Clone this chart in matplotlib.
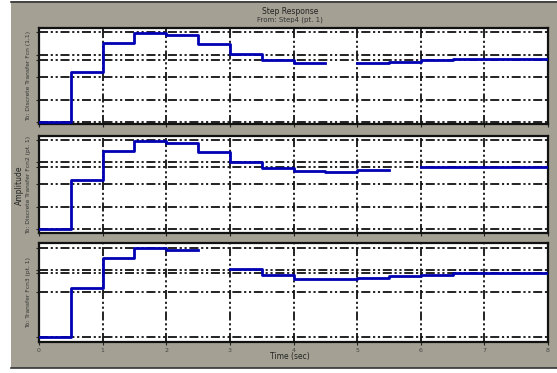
import numpy as np
import matplotlib
matplotlib.use("Agg")
import matplotlib.pyplot as plt

# ---- data ----
t = np.arange(0, 8.01, 0.5)
y1 = [0, 1.11, 1.76, 1.98, 1.93, 1.73, 1.51, 1.38, 1.31, np.nan, 1.31, 1.33, 1.38, 1.41, 1.41, 1.41, 1.41]
y2 = [0, 1.10, 1.75, 1.98, 1.93, 1.73, 1.51, 1.37, 1.31, 1.28, 1.33, np.nan, 1.38, 1.40, 1.40, 1.40, 1.40]
y3 = [0, 1.10, 1.77, 2.00, 1.95, np.nan, 1.53, 1.40, 1.31, 1.29, 1.33, 1.37, 1.40, 1.43, 1.43, 1.43, 1.43]
series = [y1, y2, y3]
out_labels = ["To: Discrete Transfer Fcn (1,1)",
              "To: Discrete Transfer Fcn2 (pt. 1)",
              "To: Transfer Fcn3 (pt. 1)"]
grid_levels = [[0, 0.5, 1.0, 1.38, 1.5, 2.0],
               [0, 0.5, 1.0, 1.39, 1.5, 2.0],
               [0, 1.0, 1.43, 1.5, 2.0]]
xticks = list(range(0, 9))
title = "Step Response"
subtitle = "From: Step4 (pt. 1)"
xlabel = "Time (sec)"
ylabel = "Amplitude"

# ---- figure ----
W, H = 557, 373
fig = plt.figure(figsize=(W / 100, H / 100), dpi=100)
fig.patch.set_facecolor("white")

bg = "#a4a194"
fig.add_artist(plt.Rectangle((11 / W, 5 / H), (W - 11) / W, (H - 6) / H,
                             transform=fig.transFigure, facecolor=bg,
                             edgecolor="none", zorder=0))
fig.add_artist(plt.Line2D([11 / W, 1], [1 - 1.5 / H] * 2, transform=fig.transFigure,
                          color="#333333", lw=1.2))
fig.add_artist(plt.Line2D([11 / W, 1], [5 / H] * 2, transform=fig.transFigure,
                          color="#333333", lw=1.2))

boxes = [(28, 124, (-0.044, 2.09)),
         (136, 233, (-0.09, 2.085)),
         (243, 342, (-0.12, 2.11))]
L, R = 39, 548
dash = (0, (5, 1.5, 1.2, 1.5, 1.2, 1.5))
for i, (top, bot, yl) in enumerate(boxes):
    ax = fig.add_axes([L / W, (H - bot) / H, (R - L) / W, (bot - top) / H])
    ax.set_facecolor("white")
    ax.set_xlim(0, 8)
    ax.set_ylim(*yl)
    for g in grid_levels[i]:
        ax.axhline(g, color="#111111", lw=1.3, linestyle=dash, zorder=1)
    for x in xticks[1:-1]:
        ax.axvline(x, color="#111111", lw=1.3, linestyle=dash, zorder=1)
    ax.step(t, series[i], where="post", color="#0000b4", lw=2.0, zorder=3)
    ax.set_xticks(xticks)
    ax.set_yticks(grid_levels[i])
    ax.set_yticklabels([])
    ax.tick_params(length=2, width=0.8, color="#222222")
    if i < 2:
        ax.set_xticklabels([])
    else:
        ax.set_xticklabels([str(v) for v in xticks], fontsize=4.5, color="#444444")
        ax.tick_params(axis="x", pad=2)
    for s in ax.spines.values():
        s.set_linewidth(1.6)
        s.set_color("#111111")
    fig.text(29 / W, 1 - ((top + bot) / 2) / H, out_labels[i], ha="center", va="center",
             rotation=90, fontsize=4.3, color="#333333")

fig.text(290 / W, 1 - 11 / H, title, ha="center", va="center", fontsize=5.5, color="#222222")
fig.text(290 / W, 1 - 20 / H, subtitle, ha="center", va="center", fontsize=5.0, color="#333333")
fig.text(290 / W, 1 - 357 / H, xlabel, ha="center", va="center", fontsize=5.5, color="#222222")
fig.text(19 / W, 1 - 185 / H, ylabel, ha="center", va="center", rotation=90,
         fontsize=5.5, color="#222222")

fig.savefig("out.png", dpi=100, facecolor=fig.get_facecolor())
